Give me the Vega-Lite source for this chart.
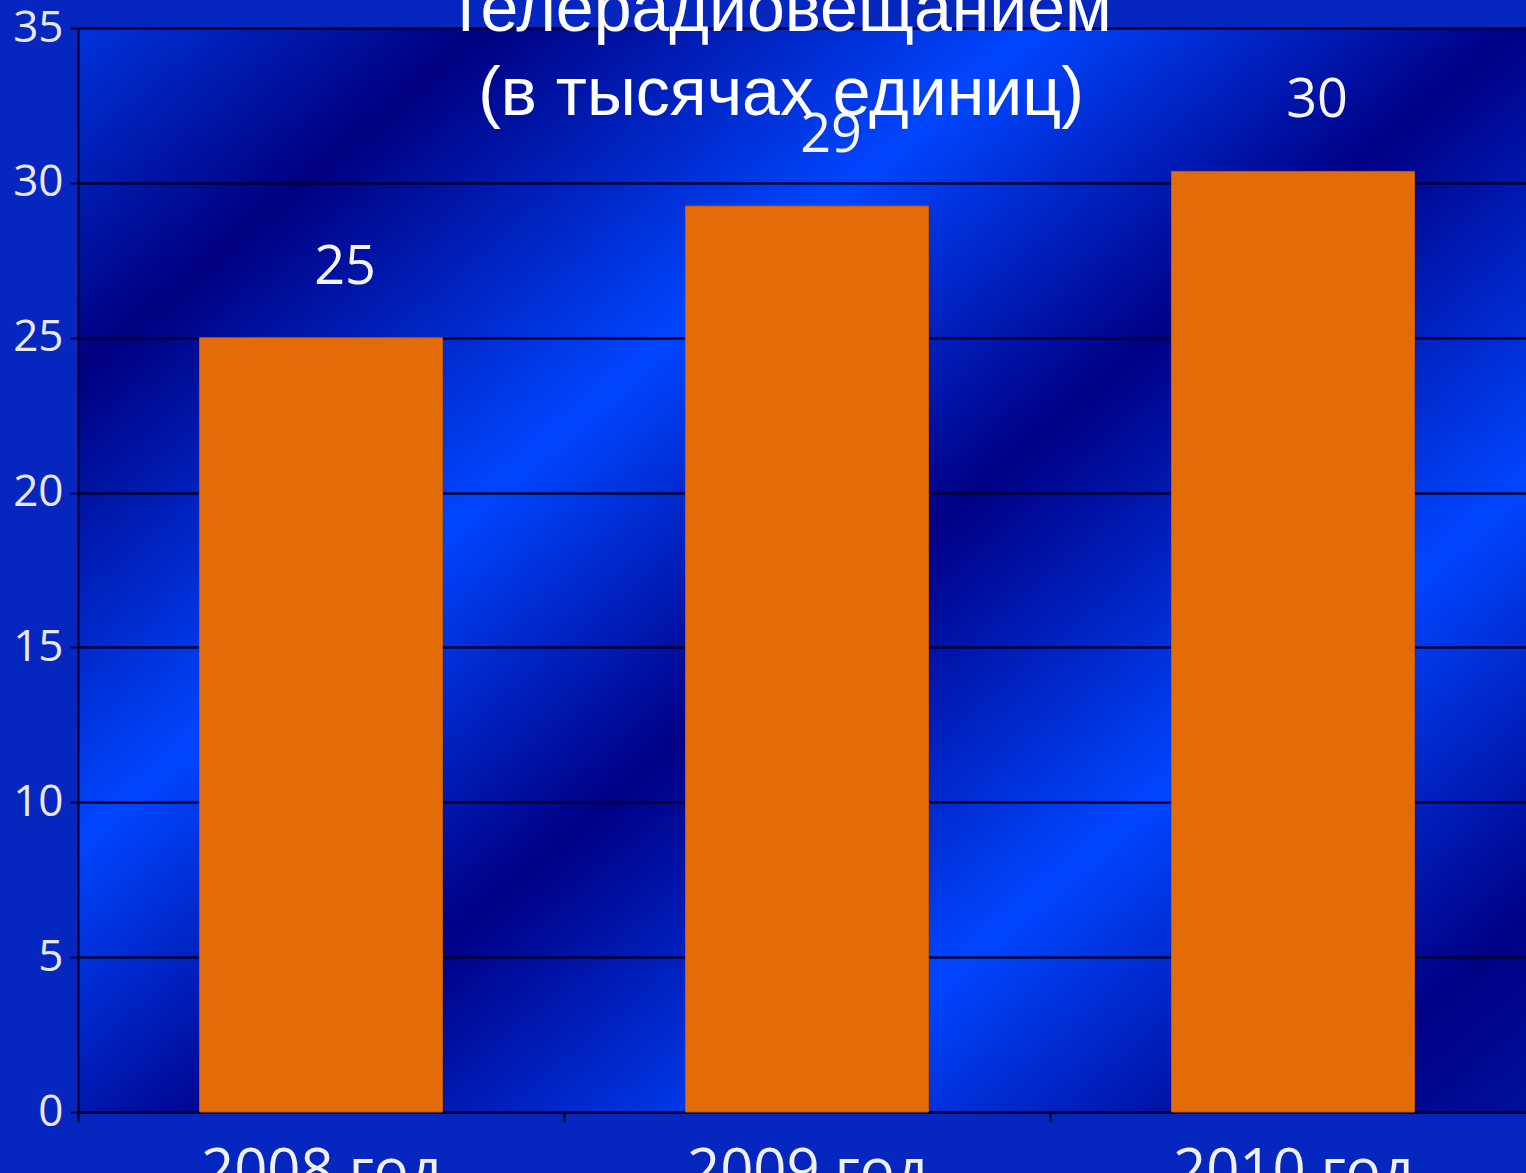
{
  "$schema": "https://vega.github.io/schema/vega-lite/v6.json",
  "autosize": {"type": "none"},
  "padding": {"left": 78, "top": 28, "right": -10, "bottom": 61},
  "width": 1458,
  "height": 1084,
  "background": "#0626c0",
  "view": {
    "stroke": null,
    "fill": {
      "gradient": "linear",
      "x1": 0, "y1": 0, "x2": 1.143, "y2": 1,
      "stops": [
        {"offset": 0, "color": "#0034dc"},
        {"offset": 0.138, "color": "#000080"},
        {"offset": 0.326, "color": "#0046ff"},
        {"offset": 0.49, "color": "#000085"},
        {"offset": 0.674, "color": "#0046ff"},
        {"offset": 0.85, "color": "#000085"},
        {"offset": 1, "color": "#0020b0"}
      ]
    }
  },
  "title": {
    "text": ["телерадиовещанием", "(в тысячах единиц)"],
    "font": "Liberation Sans",
    "fontSize": 68,
    "fontWeight": "normal",
    "color": "#ffffff",
    "anchor": "middle",
    "frame": "group",
    "offset": -123,
    "dx": -26,
    "lineHeight": 84
  },
  "data": {
    "values": [
      {"year": "2008 год", "value": 25},
      {"year": "2009 год", "value": 29.25},
      {"year": "2010 год", "value": 30.37}
    ]
  },
  "encoding": {
    "x": {
      "field": "year",
      "type": "nominal",
      "sort": null,
      "scale": {"paddingInner": 0, "paddingOuter": 0},
      "axis": {
        "title": null,
        "labelAngle": 0,
        "tickBand": "extent",
        "tickSize": 10,
        "tickColor": "#000033",
        "tickWidth": 2,
        "domainColor": "#000033",
        "domainWidth": 2.5,
        "labelFont": "Open Sans",
        "labelFontSize": 58,
        "labelColor": "#f0f0f0",
        "labelPadding": 21,
        "labelLimit": 0,
        "grid": false
      }
    },
    "y": {
      "field": "value",
      "type": "quantitative",
      "scale": {"domain": [0, 35], "nice": false},
      "axis": {
        "title": null,
        "values": [0, 5, 10, 15, 20, 25, 30, 35],
        "grid": true,
        "gridColor": "#000033",
        "gridWidth": 2.5,
        "domainColor": "#000033",
        "domainWidth": 2,
        "tickColor": "#000033",
        "tickSize": 8,
        "tickWidth": 2,
        "labelFont": "Open Sans",
        "labelFontSize": 44,
        "labelColor": "#e8e8ee",
        "labelPadding": 7
      }
    }
  },
  "layer": [
    {
      "mark": {"type": "bar", "width": {"band": 0.5}, "color": "#e36c09", "stroke": "#c25a08", "strokeWidth": 1}
    },
    {
      "mark": {
        "type": "text",
        "dx": 24,
        "dy": -70,
        "baseline": "middle",
        "font": "Open Sans",
        "fontSize": 54,
        "color": "#f4f4f4"
      },
      "encoding": {
        "text": {"field": "value", "type": "quantitative", "format": ".0f"}
      }
    }
  ]
}
